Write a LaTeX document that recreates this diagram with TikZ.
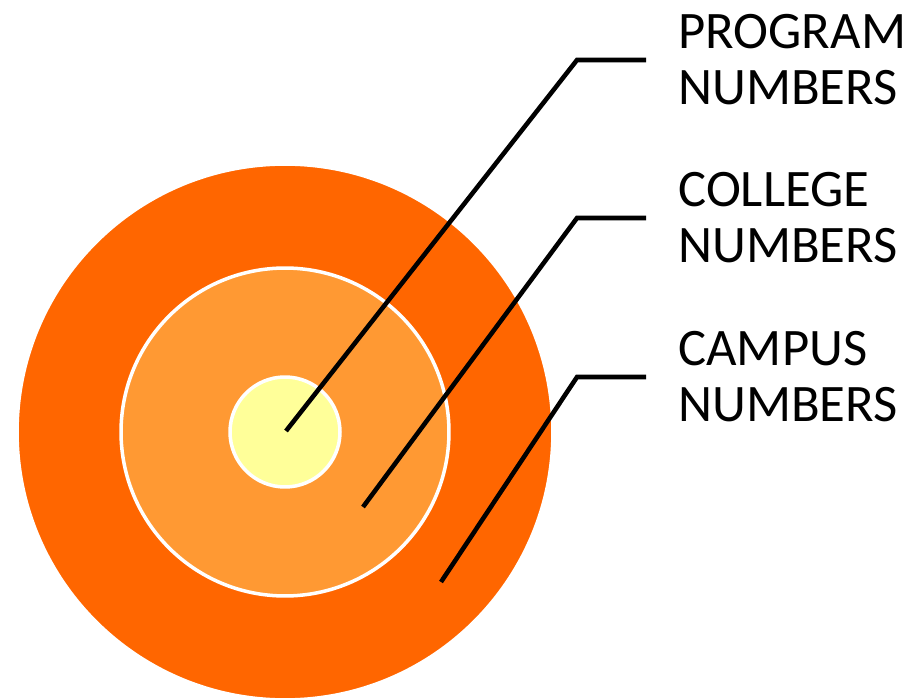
\documentclass[tikz,border=0pt]{standalone}
\usepackage{fontspec}
\setmainfont{Carlito}
\usepackage{xcolor}
\definecolor{campusorange}{HTML}{FF6600}
\definecolor{collegeorange}{HTML}{FF9933}
\definecolor{programyellow}{HTML}{FFFF99}
\usepackage{tikz}

\begin{document}
\begin{tikzpicture}[x=0.02cm, y=-0.02cm,
      ring/.style={draw=white, line width=2pt, circle, inner sep=0pt},
      lbl/.style={anchor=west, align=left, inner xsep=0.64cm, inner ysep=0pt, font=\fontsize{30}{31.9}\selectfont},
      leader/.style={line width=2.6pt}
    ]
    \useasboundingbox (0,0) rectangle (910,699);
    \node[ring, fill=campusorange, minimum size=10.72cm] (campus) at (285,432) {};
    \node[ring, fill=collegeorange, minimum size=6.56cm] (college) at (285,432) {};
    \node[ring, fill=programyellow, minimum size=2.2cm] (program) at (285,432) {};

    \coordinate (pdot) at (286,431);
    \coordinate (cdot) at (363,507);
    \coordinate (udot) at (441,582);

    \node[lbl] (plbl) at (646,60) {PROGRAM\\NUMBERS};
    \node[lbl] (clbl) at (646,218) {COLLEGE\\NUMBERS};
    \node[lbl] (ulbl) at (646,377) {CAMPUS\\NUMBERS};

    \draw[leader] (pdot) -- (577,60) -- (plbl.west);
    \draw[leader] (cdot) -- (577,218) -- (clbl.west);
    \draw[leader] (udot) -- (577,377) -- (ulbl.west);
  \end{tikzpicture}
\end{document}
